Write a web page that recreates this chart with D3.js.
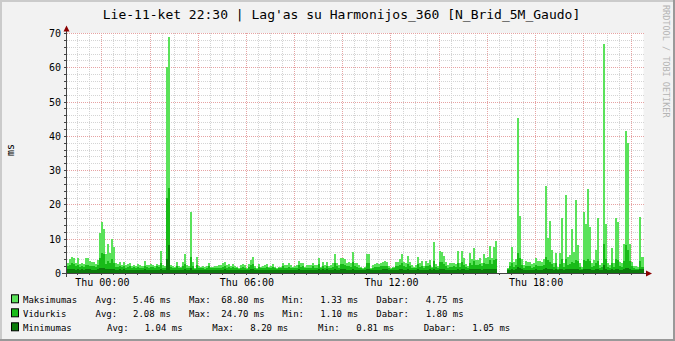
<!DOCTYPE html>
<html><head><meta charset="utf-8">
<script src="https://cdn.jsdelivr.net/npm/d3@7"></script>
<style>
html,body{margin:0;padding:0;background:#f2f2f2;}
svg{display:block;}
text{font-family:"DejaVu Sans Mono",monospace;fill:#000;}
</style></head><body>
<svg id="c" width="675" height="341"></svg>
<script>
// ---------- data ----------
const title = "Lie-11-ket 22:30 | Lag'as su Harmonijos_360 [N_Brid_5M_Gaudo]";
const yAxisLabel = "ms";
const watermark = "RRDTOOL / TOBI OETIKER";
const yTicks = [0, 10, 20, 30, 40, 50, 60, 70];
const xTickHours = [0, 6, 12, 18];
const xTickLabels = ["Thu 00:00", "Thu 06:00", "Thu 12:00", "Thu 18:00"];
const startTime = new Date(2019, 6, 10, 22, 35);
const stepMinutes = 5;
const seriesNames = ["Maksimumas", "Vidurkis", "Minimumas"];
const legendAvg = ["5.46 ms", "2.08 ms", "1.04 ms"];
const legendMax = ["68.80 ms", "24.70 ms", "8.20 ms"];
const legendMin = ["1.33 ms", "1.10 ms", "0.81 ms"];
const legendLast = ["4.75 ms", "1.80 ms", "1.05 ms"];

const maxValues = [
3.0,4.0,4.8,4.5,2.8,4.5,2.6,2.8,2.5,4.4,4.5,3.6,3.3,3.1,2.6,3.8,
11.7,14.8,12.8,5.5,8.5,5.8,10.0,7.6,3.0,
2.6,3.2,2.4,3.3,2.2,2.5,2.8,2.0,2.3,1.9,2.5,2.2,2.0,3.5,2.4,2.2,2.6,2.3,2.1,2.7,2.4,
6.5,2.3,2.0,60.0,68.8,
2.3,2.0,1.8,3.3,2.0,1.8,3.3,5.5,2.3,2.1,17.9,3.3,1.6,4.6,1.9,1.8,2.0,1.7,1.9,3.0,1.8,
1.8,2.0,2.1,2.3,2.3,2.8,3.3,2.3,2.6,2.0,
2.6,2.0,1.8,1.4,2.2,2.6,2.3,1.4,2.6,3.8,
4.6,2.1,1.5,2.6,1.8,2.0,2.2,2.6,1.8,2.0,
2.6,1.8,1.6,1.8,1.8,3.0,2.4,2.2,2.8,2.3,
1.8,1.9,2.2,3.6,2.8,3.0,1.8,2.2,2.2,2.3,
3.0,2.2,2.3,4.5,1.8,3.3,2.2,3.3,2.0,2.4,
2.8,5.5,3.0,2.3,4.3,4.3,4.0,3.0,3.3,2.8,
6.1,
3.0,2.8,2.2,1.8,1.4,1.8,5.4,5.5,1.4,2.2,
2.6,2.8,2.6,3.0,3.3,3.5,3.3,2.0,1.4,1.8,
3.2,3.2,4.0,5.5,3.3,2.8,5.0,3.3,2.3,1.8,
2.2,4.6,2.8,3.5,2.0,3.5,3.0,3.8,1.8,9.0,
2.6,2.0,6.4,6.2,5.0,3.3,2.2,2.8,2.8,3.0,
2.6,6.5,2.8,6.5,4.3,2.6,2.0,5.9,4.0,7.4,
3.8,3.8,4.3,3.0,5.5,4.3,4.6,7.9,4.3,7.7,
9.4,
null,null,null,null,null,
1.4,3.2,7.5,3.2,4.0,45.1,16.6,4.0,2.3,3.5,
3.3,3.3,2.5,2.8,4.3,3.5,3.5,3.3,4.0,25.4,
10.2,15.2,6.7,2.8,5.9,1.8,5.7,15.9,2.8,22.7,
4.8,5.2,12.8,6.2,21.3,8.2,2.8,1.8,17.8,14.3,
24.5,13.5,2.8,3.8,6.7,16.1,2.3,3.0,66.8,14.3,
2.8,2.3,7.4,3.0,16.0,15.0,3.3,3.0,8.5,41.4,
38.0,8.6,3.3,2.1,1.9,1.8,16.3,4.75
];

const avgValues = [
2.0,2.4,2.9,2.6,2.0,2.3,1.8,2.0,1.8,2.2,2.4,2.1,2.0,1.9,1.7,2.2,
4.5,5.8,5.5,2.6,3.4,2.8,4.2,3.0,1.8,
1.8,2.0,1.7,2.0,1.6,1.8,1.9,1.5,1.7,1.5,1.8,1.6,1.5,2.1,1.7,1.6,1.8,1.7,1.6,1.9,1.7,
2.8,1.6,1.5,21.8,24.7,
1.7,1.5,1.4,2.0,1.5,1.4,2.0,2.6,1.6,1.5,4.8,2.0,1.3,2.2,1.4,1.4,1.5,1.3,1.4,1.9,1.4,
1.4,1.5,1.5,1.6,1.6,1.8,2.0,1.6,1.7,1.5,
1.7,1.5,1.4,1.2,1.5,1.7,1.6,1.2,1.7,2.3,
2.6,1.5,1.3,1.7,1.4,1.5,1.5,1.7,1.4,1.5,
1.7,1.4,1.3,1.4,1.4,1.9,1.6,1.5,1.8,1.6,
1.4,1.4,1.5,2.2,1.8,1.9,1.4,1.5,1.5,1.6,
1.9,1.5,1.6,2.6,1.4,2.0,1.5,2.0,1.5,1.6,
1.8,3.0,1.9,1.6,2.5,2.5,2.4,1.9,2.0,1.8,
3.2,
1.9,1.8,1.5,1.4,1.2,1.4,3.0,3.0,1.2,1.5,
1.7,1.8,1.7,1.9,2.0,2.1,2.0,1.5,1.2,1.4,
2.0,2.0,2.3,2.8,2.0,1.8,2.6,2.0,1.6,1.4,
1.5,2.5,1.8,2.1,1.5,2.1,1.9,2.2,1.4,3.5,
1.7,1.5,3.3,3.2,2.7,2.0,1.5,1.8,1.8,1.9,
1.7,3.0,1.8,3.2,2.4,1.7,1.5,3.0,2.3,3.4,
2.2,2.2,2.5,1.9,2.9,2.5,2.6,3.8,2.5,3.7,
4.0,
null,null,null,null,null,
1.2,1.9,2.8,1.8,2.2,5.9,4.5,2.2,1.5,2.0,
1.9,1.9,1.6,1.7,2.3,2.0,2.0,1.9,2.2,4.6,
3.8,3.2,2.7,1.7,2.8,1.3,2.6,4.0,1.7,4.2,
2.4,2.6,3.3,3.0,3.8,3.5,1.7,1.3,3.8,3.5,
4.0,3.6,1.7,2.1,2.9,3.6,1.5,1.8,8.6,4.2,
1.7,1.5,3.0,1.8,4.2,3.9,1.9,1.8,3.6,8.2,
6.7,3.5,1.9,1.4,1.3,1.3,3.5,1.8
];

const minValues = [
1.1,1.2,1.3,1.2,1.0,1.1,1.0,1.1,1.0,1.1,1.2,1.1,1.0,1.0,0.9,1.1,
1.4,1.6,1.5,1.1,1.2,1.1,1.3,1.2,1.0,
1.0,1.1,1.0,1.1,0.9,1.0,1.0,0.9,1.0,0.9,1.0,0.9,0.9,1.1,1.0,0.9,1.0,1.0,0.9,1.0,1.0,
1.2,0.9,0.9,4.0,8.2,
1.0,0.9,0.9,1.0,0.9,0.9,1.0,1.1,0.9,0.9,1.4,1.0,0.8,1.0,0.9,0.9,0.9,0.8,0.9,1.0,0.9,
0.9,0.9,1.0,1.0,1.0,1.0,1.1,1.0,1.0,0.9,
1.0,0.9,0.9,0.8,0.9,1.0,1.0,0.8,1.0,1.1,
1.2,0.9,0.8,1.0,0.9,0.9,0.9,1.0,0.9,0.9,
1.0,0.9,0.8,0.9,0.9,1.0,1.0,0.9,1.0,1.0,
0.9,0.9,0.9,1.1,1.0,1.0,0.9,0.9,0.9,1.0,
1.0,0.9,1.0,1.2,0.9,1.1,0.9,1.1,0.9,1.0,
1.0,1.2,1.0,1.0,1.1,1.1,1.1,1.0,1.0,1.0,
1.2,
1.0,1.0,0.9,0.9,0.8,0.9,1.2,1.2,0.8,0.9,
1.0,1.0,1.0,1.0,1.1,1.1,1.1,0.9,0.8,0.9,
1.0,1.0,1.1,1.2,1.0,1.0,1.1,1.0,0.9,0.9,
0.9,1.1,1.0,1.0,0.9,1.0,1.0,1.1,0.9,1.3,
1.0,0.9,1.2,1.2,1.1,1.0,0.9,1.0,1.0,1.0,
1.0,1.2,1.0,1.2,1.1,1.0,0.9,1.1,1.1,1.2,
1.1,1.1,1.1,1.0,1.2,1.1,1.1,1.3,1.1,1.3,
1.3,
null,null,null,null,null,
0.9,1.0,1.2,1.0,1.1,1.8,1.4,1.1,1.0,1.0,
1.0,1.0,1.0,1.0,1.1,1.0,1.0,1.0,1.1,1.4,
1.3,1.2,1.1,1.0,1.1,0.9,1.1,1.3,1.0,1.3,
1.1,1.1,1.2,1.1,1.3,1.2,1.0,0.9,1.2,1.2,
1.3,1.2,1.0,1.0,1.1,1.2,1.0,1.0,2.2,1.3,
1.0,1.0,1.1,1.0,1.3,1.2,1.0,1.0,1.2,1.6,
1.5,1.2,1.0,1.0,1.0,1.0,1.2,1.05
];

// ---------- layout ----------
const W = 675, H = 341;
const colors = ["#5ae25a", "#18bb18", "#0b7c0b"];
const svg = d3.select("#c");

const n = maxValues.length;
const endTime = d3.timeMinute.offset(startTime, n * stepMinutes);
const x = d3.scaleTime().domain([startTime, endTime]).range([67.2, 643.5]);
const y = d3.scaleLinear().domain([0, 70]).range([273, 33]);
const plotTop = 33, plotBottom = 273, plotLeft = 67, plotRight = 643.5;

// background & 3D frame
svg.append("rect").attr("width", W).attr("height", H).attr("fill", "#f2f2f2");
svg.append("rect").attr("x", 0).attr("y", 0).attr("width", W).attr("height", 2).attr("fill", "#cbcbcb");
svg.append("rect").attr("x", 0).attr("y", 0).attr("width", 2).attr("height", H).attr("fill", "#cbcbcb");
svg.append("rect").attr("x", W - 2).attr("y", 0).attr("width", 2).attr("height", H).attr("fill", "#999");
svg.append("rect").attr("x", 0).attr("y", H - 2).attr("width", W).attr("height", 2).attr("fill", "#999");

// canvas
svg.append("rect").attr("x", plotLeft).attr("y", plotTop)
  .attr("width", plotRight - plotLeft).attr("height", plotBottom - plotTop).attr("fill", "#fff");

// grid
const grid = svg.append("g").attr("shape-rendering", "crispEdges");
const minorX = d3.timeMinute.every(30).range(startTime, endTime);
const majorX = d3.timeHour.every(2).range(startTime, endTime);
const px = v => Math.round(v) + 0.5;
grid.selectAll("line.mx").data(minorX).join("line")
  .attr("x1", d => px(x(d))).attr("x2", d => px(x(d)))
  .attr("y1", plotTop).attr("y2", plotBottom)
  .attr("stroke", "#d4d4d4").attr("stroke-dasharray", "1,1");
const minorY = d3.range(0, 71, 2);
grid.selectAll("line.my").data(minorY).join("line")
  .attr("y1", d => px(y(d))).attr("y2", d => px(y(d)))
  .attr("x1", plotLeft).attr("x2", plotRight)
  .attr("stroke", "#d4d4d4").attr("stroke-dasharray", "1,1");
grid.selectAll("line.Mx").data(majorX).join("line")
  .attr("x1", d => px(x(d))).attr("x2", d => px(x(d)))
  .attr("y1", plotTop).attr("y2", plotBottom)
  .attr("stroke", "#e6a3a3").attr("stroke-dasharray", "1,1");
grid.selectAll("line.My").data(yTicks).join("line")
  .attr("y1", d => px(y(d))).attr("y2", d => px(y(d)))
  .attr("x1", plotLeft).attr("x2", plotRight)
  .attr("stroke", "#e6a3a3").attr("stroke-dasharray", "1,1");

// series (step areas)
function stepPoints(vals) {
  const pts = [];
  vals.forEach((v, i) => {
    const t0 = d3.timeMinute.offset(startTime, i * stepMinutes);
    const t1 = d3.timeMinute.offset(startTime, (i + 1) * stepMinutes);
    pts.push({t: t0, v}); pts.push({t: t1, v});
  });
  return pts;
}
const area = d3.area()
  .defined(d => d.v !== null)
  .x(d => x(d.t)).y0(y(0)).y1(d => y(d.v));
const gSeries = svg.append("g").attr("shape-rendering", "crispEdges");
[maxValues, avgValues, minValues].forEach((vals, k) => {
  gSeries.append("path").attr("d", area(stepPoints(vals))).attr("fill", colors[k]);
});

// axes
const ax = svg.append("g").attr("shape-rendering", "crispEdges");
ax.append("line").attr("x1", 62).attr("x2", 647).attr("y1", 273.5).attr("y2", 273.5).attr("stroke", "#444");
ax.append("line").attr("x1", 66.5).attr("x2", 66.5).attr("y1", 277).attr("y2", 29).attr("stroke", "#444");
// ticks
ax.selectAll("line.tx").data(minorX).join("line")
  .attr("x1", d => px(x(d))).attr("x2", d => px(x(d))).attr("y1", 273).attr("y2", 275)
  .attr("stroke", "#444");
ax.selectAll("line.ty").data(minorY).join("line")
  .attr("x1", 64).attr("x2", 66).attr("y1", d => px(y(d))).attr("y2", d => px(y(d)))
  .attr("stroke", "#444");
// arrows
svg.append("path").attr("d", "M63.5,31.5 L69.5,31.5 L66.5,25.5 Z").attr("fill", "#8b0000");
svg.append("path").attr("d", "M646,270.5 L646,276.5 L652,273.5 Z").attr("fill", "#8b0000");

// tick labels
svg.selectAll("text.yl").data(yTicks).join("text")
  .attr("x", 61).attr("y", d => y(d) + 4).attr("text-anchor", "end")
  .attr("font-size", 10).text(d => d);
svg.selectAll("text.xl").data(xTickHours).join("text")
  .attr("x", h => x(new Date(2019, 6, 11, h, 0)) + 1).attr("y", 285.5)
  .attr("text-anchor", "middle").attr("font-size", 10)
  .text((h, i) => xTickLabels[i]);

// title, y label, watermark
svg.append("text").attr("x", 341.5).attr("y", 18.5).attr("text-anchor", "middle")
  .attr("font-size", 13).text(title);
svg.append("text").attr("transform", "translate(14,150) rotate(-90)")
  .attr("text-anchor", "middle").attr("font-size", 10).text(yAxisLabel);
svg.append("text").attr("transform", "translate(663,5) rotate(90)")
  .attr("font-size", 8.5).style("fill", "#b4b4b4").text(watermark);

// legend
const rowY = [299.3, 313.3, 327.3];
const posA = [23, 95.5, 133, 189, 221.3, 282.3, 320.3, 376.3, 425.7];
const posB = [23, 107, 144.7, 212.3, 250.3, 318, 356.3, 423.7, 472.3];
seriesNames.forEach((name, k) => {
  const p = k === 2 ? posB : posA;
  const cy = rowY[k];
  svg.append("rect").attr("x", 11.5).attr("y", cy - 4.5).attr("width", 7).attr("height", 8)
    .attr("fill", colors[k]).attr("stroke", "#000").attr("stroke-width", 1);
  const parts = [name, "Avg:", legendAvg[k], "Max:", legendMax[k], "Min:", legendMin[k], "Dabar:", legendLast[k]];
  parts.forEach((s, j) => {
    svg.append("text").attr("x", p[j]).attr("y", cy + 3.3).attr("font-size", 9)
      .attr("xml:space", "preserve").text(s);
  });
});
</script>
</body></html>
